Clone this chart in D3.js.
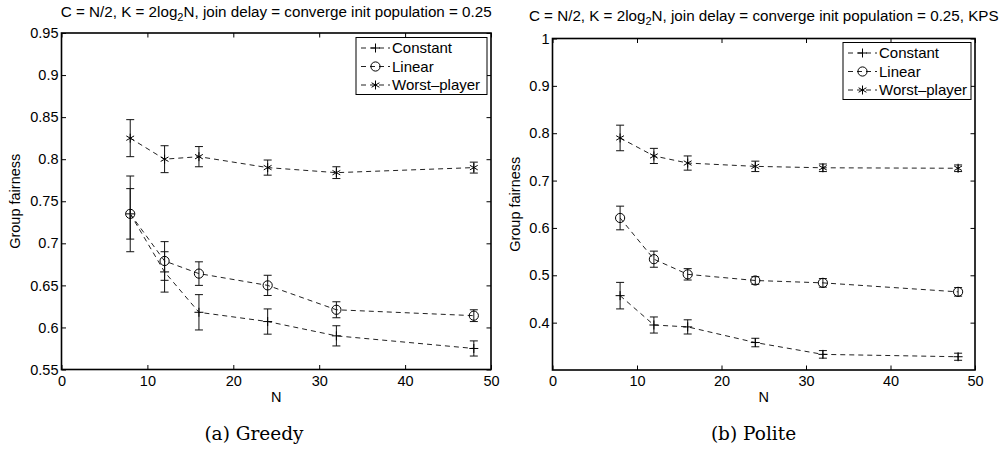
<!DOCTYPE html>
<html>
<head>
<meta charset="utf-8">
<script src="https://cdn.jsdelivr.net/npm/d3@7"></script>
<style>
  body { margin: 0; background: #fff; }
  svg { display: block; }
</style>
</head>
<body>
<div id="chart"></div>
<script>
// values
const nValues = [8, 12, 16, 24, 32, 48];
const xTicks = [0, 10, 20, 30, 40, 50];
const seriesNames = ['Constant', 'Linear', 'Worst\u2013player'];
const seriesMarkers = ['plus', 'circle', 'star'];

const greedyConstant = [0.735, 0.666, 0.618, 0.607, 0.590, 0.575];
const greedyConstantErr = [0.045, 0.024, 0.021, 0.015, 0.012, 0.009];
const greedyLinear = [0.735, 0.679, 0.664, 0.650, 0.621, 0.614];
const greedyLinearErr = [0.030, 0.023, 0.014, 0.012, 0.0095, 0.007];
const greedyWorst = [0.825, 0.800, 0.803, 0.790, 0.784, 0.790];
const greedyWorstErr = [0.022, 0.016, 0.012, 0.009, 0.007, 0.0065];
const greedyTicks = [0.55, 0.6, 0.65, 0.7, 0.75, 0.8, 0.85, 0.9, 0.95];

const politeConstant = [0.457, 0.395, 0.391, 0.358, 0.333, 0.328];
const politeConstantErr = [0.028, 0.017, 0.015, 0.009, 0.008, 0.0075];
const politeLinear = [0.621, 0.534, 0.502, 0.489, 0.484, 0.465];
const politeLinearErr = [0.025, 0.017, 0.012, 0.008, 0.009, 0.009];
const politeWorst = [0.790, 0.752, 0.737, 0.730, 0.727, 0.726];
const politeWorstErr = [0.027, 0.016, 0.015, 0.011, 0.008, 0.007];
const politeTicks = [0.4, 0.5, 0.6, 0.7, 0.8, 0.9, 1];

const titleStart = 'C = N/2, K = 2log';
const titleEnd = 'N, join delay = converge init population = 0.25';

const W = 1006, H = 452;
const sans = '"Liberation Sans", Arial, Helvetica, sans-serif';

const svg = d3.select('#chart')
  .append('svg')
  .attr('width', W)
  .attr('height', H);

const marker = (g, type, cx, cy, s) => {
  if (type === 'circle') {
    g.append('circle')
      .attr('cx', cx).attr('cy', cy).attr('r', 4.6)
      .attr('fill', 'none').attr('stroke', '#000').attr('stroke-width', 1);
    return;
  }
  let d = `M${cx - s},${cy}H${cx + s}M${cx},${cy - s}V${cy + s}`;
  if (type === 'star') {
    const dx = s * Math.cos(Math.PI / 6), dy = s * Math.sin(Math.PI / 6);
    d = `M${cx},${cy - s}V${cy + s}M${cx - dx},${cy - dy}L${cx + dx},${cy + dy}M${cx - dx},${cy + dy}L${cx + dx},${cy - dy}`;
  }
  g.append('path').attr('d', d)
    .attr('fill', 'none').attr('stroke', '#000').attr('stroke-width', 1);
};

function drawPanel(p) {
  const g = svg.append('g');

  const x = d3.scaleLinear().domain([0, 50]).range([p.left, p.right]);
  const y = d3.scaleLinear().domain(p.yDomain).range([p.bottom, p.top]);

  const fmt = v => String(+v.toFixed(2));

  // axes, MATLAB style ticks pointing inward on all four sides
  const bottomAxis = g.append('g')
    .attr('transform', `translate(0,${p.bottom})`)
    .call(d3.axisBottom(x).tickValues(xTicks).tickSizeInner(-4.5).tickSizeOuter(0).tickPadding(6));
  g.append('g')
    .attr('transform', `translate(0,${p.top})`)
    .call(d3.axisTop(x).tickValues(xTicks).tickSizeInner(-4.5).tickSizeOuter(0).tickFormat(''));
  const leftAxis = g.append('g')
    .attr('transform', `translate(${p.left},0)`)
    .call(d3.axisLeft(y).tickValues(p.yTicks).tickSizeInner(-4.5).tickSizeOuter(0).tickPadding(3).tickFormat(fmt));
  g.append('g')
    .attr('transform', `translate(${p.right},0)`)
    .call(d3.axisRight(y).tickValues(p.yTicks).tickSizeInner(-4.5).tickSizeOuter(0).tickFormat(''));

  g.selectAll('.domain').remove();
  g.selectAll('.tick line').attr('stroke', '#000').attr('stroke-width', 1);
  g.selectAll('.tick text')
    .attr('fill', '#000')
    .style('font-family', sans)
    .style('font-size', '14.5px');

  g.append('rect')
    .attr('x', p.left).attr('y', p.top)
    .attr('width', p.right - p.left).attr('height', p.bottom - p.top)
    .attr('fill', 'none').attr('stroke', '#000').attr('stroke-width', 1.6);

  // series
  const line = d3.line().x(d => x(d.n)).y(d => y(d.v));
  p.series.forEach((s, k) => {
    const pts = nValues.map((n, i) => ({ n: n, v: s.values[i], e: s.err[i] }));
    g.append('path')
      .datum(pts)
      .attr('d', line)
      .attr('fill', 'none')
      .attr('stroke', '#222')
      .attr('stroke-width', 1)
      .attr('stroke-dasharray', '5,4');

    pts.forEach(d => {
      const cx = x(d.n), y0 = y(d.v - d.e), y1 = y(d.v + d.e);
      g.append('path')
        .attr('d', `M${cx},${y0}V${y1}M${cx - 4},${y0}H${cx + 4}M${cx - 4},${y1}H${cx + 4}`)
        .attr('fill', 'none').attr('stroke', '#111').attr('stroke-width', 1);
      marker(g, seriesMarkers[k], cx, y(d.v), 4.5);
    });
  });

  // legend
  const lg = g.append('g').attr('transform', `translate(${p.legendX},${p.legendY})`);
  lg.append('rect')
    .attr('width', p.legendW).attr('height', 57)
    .attr('fill', '#fff').attr('stroke', '#000').attr('stroke-width', 1);
  seriesNames.forEach((name, k) => {
    const ry = 10.5 + k * 18.5;
    lg.append('line')
      .attr('x1', 5).attr('x2', 34).attr('y1', ry).attr('y2', ry)
      .attr('stroke', '#222').attr('stroke-width', 1).attr('stroke-dasharray', '5,4');
    marker(lg, seriesMarkers[k], 19.5, ry, 4.5);
    lg.append('text')
      .attr('x', 36).attr('y', ry + 5.3)
      .style('font-family', sans).style('font-size', '15px')
      .text(name);
  });

  // title
  const cx = (p.left + p.right) / 2;
  const t = g.append('text')
    .attr('x', cx).attr('y', p.titleY)
    .attr('text-anchor', 'middle')
    .style('font-family', sans).style('font-size', '15.2px');
  t.append('tspan').text(titleStart);
  t.append('tspan').attr('dy', 4).style('font-size', '11px').text('2');
  t.append('tspan').attr('dy', -4).text(titleEnd + p.titleExtra);

  // axis labels
  g.append('text')
    .attr('x', cx).attr('y', 402)
    .attr('text-anchor', 'middle')
    .style('font-family', sans).style('font-size', '14.5px')
    .text('N');

  g.append('text')
    .attr('transform', `translate(${p.yLabelX},${(p.top + p.bottom) / 2}) rotate(-90)`)
    .attr('text-anchor', 'middle')
    .style('font-family', sans).style('font-size', '14.5px')
    .text('Group fairness');

  // caption
  g.append('text')
    .attr('x', p.captionX).attr('y', 440)
    .attr('text-anchor', 'middle')
    .style('font-family', '"DejaVu Serif", serif').style('font-size', '18.5px')
    .text(p.caption);
}

drawPanel({
  left: 61.5, right: 491, top: 33, bottom: 369.5,
  yDomain: [0.55, 0.95], yTicks: greedyTicks,
  series: [
    { values: greedyConstant, err: greedyConstantErr },
    { values: greedyLinear, err: greedyLinearErr },
    { values: greedyWorst, err: greedyWorstErr }
  ],
  legendX: 356, legendY: 37.5, legendW: 131,
  titleY: 16.5, titleExtra: '',
  yLabelX: 20,
  caption: '(a) Greedy', captionX: 254
});

drawPanel({
  left: 552.5, right: 975, top: 38.5, bottom: 370,
  yDomain: [0.3, 1], yTicks: politeTicks,
  series: [
    { values: politeConstant, err: politeConstantErr },
    { values: politeLinear, err: politeLinearErr },
    { values: politeWorst, err: politeWorstErr }
  ],
  legendX: 843, legendY: 42.5, legendW: 128,
  titleY: 21, titleExtra: ', KPS',
  yLabelX: 520,
  caption: '(b) Polite', captionX: 753.5
});
</script>
</body>
</html>
